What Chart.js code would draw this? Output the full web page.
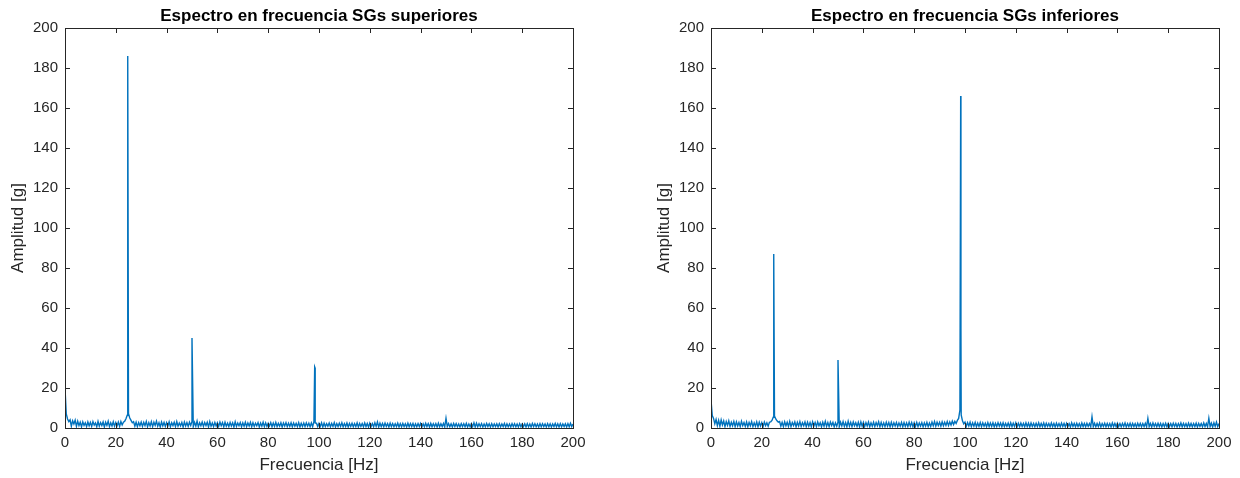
<!DOCTYPE html>
<html>
<head>
<meta charset="utf-8">
<script src="https://cdn.jsdelivr.net/npm/chart.js@4.4.1/dist/chart.umd.min.js"></script>
<style>
  html, body { margin: 0; padding: 0; background: #fff; }
  .box { position: absolute; top: 0; height: 478px; }
  #left { left: 0; width: 600px; }
  #right { left: 646px; width: 594px; }
</style>
</head>
<body>
<div class="box" id="left"><canvas id="chartL"></canvas></div>
<div class="box" id="right"><canvas id="chartR"></canvas></div>
<script>
const stepHz = 0.5;
const noiseSup = [
  20, 7, 4.5, 3.2, 4.1, 0.9, 3.6, 2.0, 3.9, 0.8, 3.4, 1.2, 2.9, 0.6, 3.1, 1.3, 2.6, 0.7, 3.0, 1.1,
  2.8, 0.8, 3.2, 1.4, 2.5, 0.6, 3.3, 0.9, 2.7, 1.2, 3.0, 0.5, 2.9, 1.3, 3.4, 0.7, 2.6, 1.0, 3.1, 0.9,
  2.7, 1.1, 3.0, 0.8, 3.2, 1.5, 2.9, 3.4, 4.6, 6.4, 7.2, 5.0, 3.8, 2.6, 3.1, 0.9, 2.9, 0.7, 2.7, 1.1,
  3.0, 0.8, 2.8, 1.2, 3.3, 0.6, 2.7, 1.0, 3.2, 0.7, 2.9, 1.3, 3.4, 0.9, 2.6, 0.5, 3.0, 1.1, 2.8, 0.8,
  2.7, 1.0, 3.1, 0.6, 2.6, 1.2, 2.9, 0.7, 3.2, 0.9, 2.5, 1.1, 2.8, 0.5, 3.0, 1.0, 2.7, 0.8, 2.9, 1.3,
  3.3, 0.7, 2.8, 0.9, 3.5, 0.6, 2.6, 1.1, 3.0, 0.8, 2.7, 1.2, 2.9, 0.5, 3.2, 0.9, 2.5, 0.7, 2.8, 1.0,
  2.6, 0.8, 3.0, 1.1, 2.7, 0.6, 2.9, 0.9, 2.4, 0.7, 2.8, 1.0, 2.6, 0.5, 3.1, 0.8, 2.5, 1.1, 2.7, 0.6,
  2.6, 0.9, 2.9, 0.7, 2.5, 1.0, 2.8, 0.6, 2.6, 0.8, 2.4, 1.1, 2.7, 0.5, 2.5, 0.9, 2.9, 0.7, 2.6, 0.8,
  2.4, 1.0, 2.7, 0.6, 2.5, 0.8, 2.8, 0.7, 2.3, 0.9, 2.6, 0.5, 2.5, 1.0, 2.7, 0.7, 2.4, 0.8, 2.6, 0.6,
  2.5, 0.9, 2.3, 0.7, 2.7, 0.5, 2.4, 0.8, 2.5, 0.7, 2.6, 0.9, 2.4, 0.6, 2.5, 0.7, 3.2, 2.5, 2.4, 0.7,
  2.3, 0.8, 2.6, 0.5, 2.4, 0.7, 2.2, 0.9, 2.5, 0.6, 2.3, 0.8, 2.7, 0.5, 2.2, 0.7, 2.4, 0.8, 2.6, 0.6,
  2.2, 0.7, 2.5, 0.5, 2.3, 0.8, 2.4, 0.6, 2.2, 0.7, 2.6, 0.5, 2.3, 0.8, 2.2, 0.6, 2.5, 0.7, 2.3, 0.5,
  2.4, 0.7, 2.2, 0.6, 2.6, 0.8, 3.0, 0.5, 2.4, 0.7, 2.3, 0.6, 2.5, 0.8, 2.2, 0.5, 2.4, 0.7, 2.2, 0.6,
  2.1, 0.7, 2.4, 0.5, 2.2, 0.6, 2.3, 0.7, 2.1, 0.5, 2.4, 0.6, 2.2, 0.7, 2.3, 0.5, 2.1, 0.6, 2.2, 0.7,
  2.3, 0.5, 2.1, 0.6, 2.4, 0.7, 2.2, 0.5, 2.3, 0.6, 2.1, 0.7, 2.2, 0.5, 2.4, 0.6, 2.1, 0.7, 2.3, 0.5,
  4.9, 0.7, 2.2, 0.6, 2.1, 0.5, 2.3, 0.7, 2.2, 0.6, 2.0, 0.5, 2.2, 0.7, 2.1, 0.6, 2.3, 0.5, 2.0, 0.6,
  2.2, 0.7, 2.6, 0.5, 2.4, 0.6, 2.1, 0.7, 2.2, 0.5, 2.0, 0.6, 2.3, 0.7, 2.1, 0.5, 2.2, 0.6, 2.0, 0.7,
  2.1, 0.5, 2.2, 0.6, 2.0, 0.7, 2.3, 0.5, 2.1, 0.6, 2.0, 0.5, 2.2, 0.7, 2.1, 0.6, 2.0, 0.5, 2.2, 0.6,
  2.0, 0.7, 2.1, 0.5, 2.2, 0.6, 2.0, 0.5, 2.3, 0.7, 2.1, 0.6, 2.0, 0.5, 2.2, 0.6, 2.1, 0.7, 2.0, 0.5,
  2.2, 0.6, 2.1, 0.5, 2.0, 0.7, 2.3, 0.6, 2.1, 0.5, 2.2, 0.6, 2.0, 0.7, 2.1, 0.5, 2.2, 0.6, 2.4, 0.7,
  2.0
];
const noiseInf = [
  14, 6.2, 4.8, 2.1, 4.3, 1.2, 3.8, 0.9, 4.0, 1.5, 3.5, 0.7, 3.2, 1.3, 3.6, 0.8, 2.9, 1.1, 3.3, 0.7,
  3.1, 1.0, 2.8, 0.7, 3.4, 1.2, 2.7, 0.8, 3.0, 0.6, 2.8, 1.1, 3.2, 0.7, 2.6, 0.9, 3.1, 0.6, 2.9, 1.0,
  2.7, 0.7, 3.0, 1.2, 2.6, 0.9, 2.9, 3.1, 3.8, 5.4, 6.0, 4.5, 3.6, 2.9, 3.2, 0.9, 2.8, 0.7, 3.1, 1.1,
  2.9, 0.8, 3.3, 0.7, 2.7, 1.2, 3.0, 0.6, 2.8, 1.0, 3.2, 0.8, 2.6, 1.1, 3.0, 0.7, 2.9, 0.9, 2.7, 0.6,
  3.1, 1.0, 2.8, 0.7, 3.0, 1.1, 2.6, 0.6, 2.9, 0.9, 3.3, 0.8, 2.7, 0.7, 3.0, 1.2, 2.8, 0.6, 2.6, 0.9,
  3.0, 0.7, 2.9, 1.0, 3.2, 0.8, 2.7, 0.6, 3.4, 0.9, 2.8, 0.7, 3.0, 1.1, 2.6, 0.8, 2.9, 0.6, 3.1, 0.9,
  2.8, 0.7, 2.7, 1.0, 3.0, 0.6, 2.6, 0.9, 2.9, 0.7, 2.7, 1.1, 3.1, 0.6, 2.8, 0.8, 2.6, 0.7, 2.9, 0.9,
  2.7, 0.6, 2.9, 0.8, 2.6, 1.0, 2.8, 0.7, 2.5, 0.9, 2.8, 0.6, 2.7, 0.8, 2.6, 0.7, 2.9, 0.9, 2.7, 0.6,
  2.6, 0.8, 2.8, 0.7, 2.5, 1.0, 2.7, 0.6, 2.6, 0.9, 2.8, 0.7, 2.5, 0.8, 3.0, 1.1, 3.2, 0.9, 2.9, 1.2,
  2.8, 0.9, 3.1, 1.1, 2.9, 1.3, 3.2, 1.2, 3.0, 1.5, 3.4, 1.7, 3.3, 2.3, 3.8, 4.8, 9.0, 6.5, 3.6, 2.1,
  3.0, 0.8, 2.7, 1.0, 2.9, 0.7, 2.6, 0.9, 2.8, 0.6, 2.5, 0.8, 2.7, 0.7, 2.6, 0.9, 2.4, 0.6, 2.7, 0.7,
  2.5, 0.8, 2.6, 0.6, 2.4, 0.7, 2.7, 0.9, 2.5, 0.6, 2.6, 0.7, 2.3, 0.8, 2.5, 0.6, 2.6, 0.7, 2.4, 0.8,
  2.6, 0.6, 2.4, 0.7, 2.5, 0.8, 2.3, 0.6, 2.6, 0.7, 2.4, 0.5, 2.5, 0.8, 2.3, 0.6, 2.4, 0.7, 2.6, 0.6,
  2.3, 0.7, 2.5, 0.5, 2.4, 0.8, 2.2, 0.6, 2.5, 0.7, 2.3, 0.5, 2.4, 0.7, 2.2, 0.6, 2.5, 0.8, 2.3, 0.6,
  2.4, 0.7, 2.2, 0.5, 2.6, 0.8, 2.3, 0.6, 2.4, 0.7, 2.2, 0.5, 2.5, 0.7, 2.3, 0.6, 2.4, 0.8, 2.2, 0.6,
  5.6, 0.7, 2.4, 0.6, 2.3, 0.7, 2.5, 0.5, 2.2, 0.8, 2.4, 0.6, 2.3, 0.7, 2.2, 0.5, 2.5, 0.7, 2.3, 0.6,
  2.4, 0.7, 2.2, 0.6, 2.3, 0.8, 2.5, 0.5, 2.2, 0.7, 2.4, 0.6, 2.3, 0.7, 2.2, 0.5, 2.4, 0.8, 2.3, 0.6,
  2.2, 0.7, 2.4, 0.6, 4.8, 0.7, 2.3, 0.5, 2.5, 0.8, 2.2, 0.6, 2.4, 0.7, 2.3, 0.5, 2.2, 0.7, 2.4, 0.6,
  2.3, 0.7, 2.2, 0.6, 2.4, 0.8, 2.3, 0.5, 2.2, 0.7, 2.5, 0.6, 2.3, 0.7, 2.2, 0.5, 2.4, 0.7, 2.3, 0.6,
  2.2, 0.7, 2.4, 0.5, 2.3, 0.8, 2.2, 0.6, 2.5, 0.7, 2.3, 0.6, 4.9, 0.7, 2.4, 0.5, 2.6, 0.8, 3.0, 0.7,
  2.2
];

// narrow spectral peaks
const peakFreqSup = [24.7, 50.0, 98.3, 98.45];
const peakAmpSup = [186, 45, 30.5, 30];
const peakFreqInf = [24.7, 50.0, 98.3, 98.4];
const peakAmpInf = [87, 34, 166, 50];

const xTicks = [0, 20, 40, 60, 80, 100, 120, 140, 160, 180, 200];
const yTicks = [0, 20, 40, 60, 80, 100, 120, 140, 160, 180, 200];

const lineColor = '#0072BD';
const axisColor = '#262626';
const fontFam = '"Liberation Sans", Arial, sans-serif';

function buildPoints(noise, pf, pa) {
  const pts = noise.map((v, i) => ({ x: i * stepHz, y: v }));
  pf.forEach((f, i) => pts.push({ x: f, y: pa[i] }));
  pts.sort((a, b) => a.x - b.x);
  return pts;
}

// MATLAB-like box with inward ticks + title centred over the axes
const boxPlugin = {
  id: 'box',
  afterDatasetsDraw(chart, args, opts) {
    const { ctx, chartArea: a, scales } = chart;
    ctx.save();
    ctx.strokeStyle = axisColor;
    ctx.lineWidth = 1;
    ctx.strokeRect(Math.round(a.left) + 0.5, Math.round(a.top) + 0.5,
      Math.round(a.right - a.left), Math.round(a.bottom - a.top));
    const tl = 5;
    ctx.beginPath();
    xTicks.forEach(t => {
      const px = Math.round(scales.x.getPixelForValue(t)) + 0.5;
      ctx.moveTo(px, a.bottom); ctx.lineTo(px, a.bottom - tl);
      ctx.moveTo(px, a.top); ctx.lineTo(px, a.top + tl);
    });
    yTicks.forEach(t => {
      const py = Math.round(scales.y.getPixelForValue(t)) + 0.5;
      ctx.moveTo(a.left, py); ctx.lineTo(a.left + tl, py);
      ctx.moveTo(a.right, py); ctx.lineTo(a.right - tl, py);
    });
    ctx.stroke();
    ctx.fillStyle = '#000';
    ctx.font = 'bold 17px ' + fontFam;
    ctx.textAlign = 'center';
    ctx.textBaseline = 'alphabetic';
    ctx.fillText(opts.text, (a.left + a.right) / 2, 21);
    ctx.restore();
  }
};

function makeChart(id, title, noise, pf, pa, padRight) {
  return new Chart(document.getElementById(id), {
    type: 'line',
    data: {
      datasets: [{
        data: buildPoints(noise, pf, pa),
        borderColor: lineColor,
        borderWidth: 1.4,
        pointRadius: 0,
        tension: 0,
        fill: false
      }]
    },
    options: {
      responsive: true,
      maintainAspectRatio: false,
      animation: false,
      layout: { padding: { top: 28, right: padRight, left: 0, bottom: 0 } },
      plugins: {
        legend: { display: false },
        tooltip: { enabled: false },
        box: { text: title }
      },
      scales: {
        x: {
          type: 'linear', min: 0, max: 200,
          afterBuildTicks: s => { s.ticks = xTicks.map(v => ({ value: v })); },
          afterFit: s => { s.height = 50; },
          grid: { display: false, drawTicks: false },
          border: { display: false },
          ticks: { color: axisColor, font: { family: fontFam, size: 15 }, padding: 6, maxRotation: 0 },
          title: { display: true, text: 'Frecuencia [Hz]', color: axisColor, font: { family: fontFam, size: 17 }, padding: { top: 2, bottom: 2 } }
        },
        y: {
          min: 0, max: 200,
          afterBuildTicks: s => { s.ticks = yTicks.map(v => ({ value: v })); },
          afterFit: s => { s.width = 65; },
          grid: { display: false, drawTicks: false },
          border: { display: false },
          ticks: { color: axisColor, font: { family: fontFam, size: 15 }, padding: 7 },
          title: { display: true, text: 'Amplitud [g]', color: axisColor, font: { family: fontFam, size: 17 }, padding: { top: 8, bottom: 4 } }
        }
      }
    },
    plugins: [boxPlugin]
  });
}

makeChart('chartL', 'Espectro en frecuencia SGs superiores', noiseSup, peakFreqSup, peakAmpSup, 27);
makeChart('chartR', 'Espectro en frecuencia SGs inferiores', noiseInf, peakFreqInf, peakAmpInf, 21);
</script>
</body>
</html>
